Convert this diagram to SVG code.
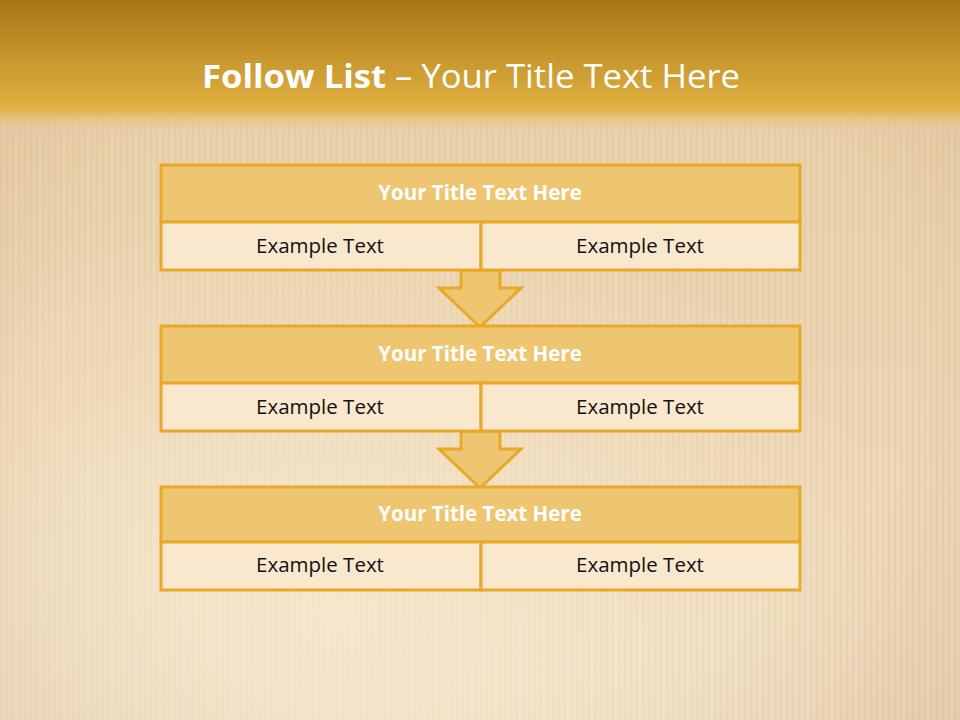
<svg xmlns="http://www.w3.org/2000/svg" width="960" height="720" viewBox="0 0 960 720">
<defs>
<linearGradient id="bg" x1="0" y1="0" x2="0" y2="1">
<stop offset="0" stop-color="#E9D0AA"/>
<stop offset="0.5" stop-color="#ECD5B2"/>
<stop offset="1" stop-color="#F1E0C4"/>
</linearGradient>
<linearGradient id="hdr" x1="0" y1="0" x2="0" y2="140" gradientUnits="userSpaceOnUse">
<stop offset="0" stop-color="#A87715" stop-opacity="1"/>
<stop offset="0.78" stop-color="#E2B142" stop-opacity="1"/>
<stop offset="0.86" stop-color="#E6C27A" stop-opacity="0.6"/>
<stop offset="1" stop-color="#EAD3AE" stop-opacity="0"/>
</linearGradient>
<radialGradient id="glow" cx="0.35" cy="0.85" r="0.6">
<stop offset="0" stop-color="#F7EAD2" stop-opacity="0.8"/>
<stop offset="1" stop-color="#F7EAD2" stop-opacity="0"/>
</radialGradient>
<radialGradient id="edge" cx="0.5" cy="0.5" r="0.75">
<stop offset="0.6" stop-color="#C9A07E" stop-opacity="0"/>
<stop offset="1" stop-color="#C9A07E" stop-opacity="0.35"/>
</radialGradient>
<pattern id="stripes" width="6" height="10" patternUnits="userSpaceOnUse">
<rect x="0" y="0" width="2" height="10" fill="#D9B98C" opacity="0.25"/>
</pattern>
</defs>
<style>
.ttl{fill:#EEC570;stroke:#E8A828;stroke-width:3}
.cell{fill:#FAE8CE;stroke:#E8A828;stroke-width:3}
.th{font-family:"Open Sans","Liberation Sans",sans-serif;font-weight:bold;font-size:20.5px;fill:#FFFFFF;text-anchor:middle}
.td{font-family:"Open Sans","Liberation Sans",sans-serif;font-size:20.5px;fill:#111111;text-anchor:middle}
.arr{fill:#EEC570;stroke:#E8A828;stroke-width:3;stroke-linejoin:miter}
</style>
<rect width="960" height="720" fill="url(#bg)"/>
<rect width="960" height="720" fill="url(#stripes)"/>
<rect width="960" height="720" fill="url(#edge)"/>
<rect width="960" height="720" fill="url(#glow)"/>
<rect width="960" height="140" fill="url(#hdr)"/>
<text x="202" y="88" textLength="538" lengthAdjust="spacingAndGlyphs" font-family="Open Sans, Liberation Sans, sans-serif" font-size="33" fill="#FFFFFF"><tspan font-weight="bold">Follow List</tspan>  – Your Title Text Here</text>
<g id="connectors">
<path class="arr" d="M461,270 L500,270 L500,288 L521,288 L480,327 L439,288 L461,288 Z"/>
<path class="arr" d="M461,431 L500,431 L500,449 L521,449 L480,488 L439,449 L461,449 Z"/>
</g>
<g id="node1">
<rect class="ttl" x="161" y="165" width="639" height="57"/>
<rect class="cell" x="161" y="222" width="320" height="48"/>
<rect class="cell" x="481" y="222" width="319" height="48"/>
<text class="th" x="480" y="200">Your Title Text Here</text>
<text class="td" x="320" y="253">Example Text</text>
<text class="td" x="640" y="253">Example Text</text>
</g>
<g id="node2">
<rect class="ttl" x="161" y="326" width="639" height="57"/>
<rect class="cell" x="161" y="383" width="320" height="48"/>
<rect class="cell" x="481" y="383" width="319" height="48"/>
<text class="th" x="480" y="361">Your Title Text Here</text>
<text class="td" x="320" y="414">Example Text</text>
<text class="td" x="640" y="414">Example Text</text>
</g>
<g id="node3">
<rect class="ttl" x="161" y="487" width="639" height="55"/>
<rect class="cell" x="161" y="542" width="320" height="48"/>
<rect class="cell" x="481" y="542" width="319" height="48"/>
<text class="th" x="480" y="521">Your Title Text Here</text>
<text class="td" x="320" y="572">Example Text</text>
<text class="td" x="640" y="572">Example Text</text>
</g>
</svg>
